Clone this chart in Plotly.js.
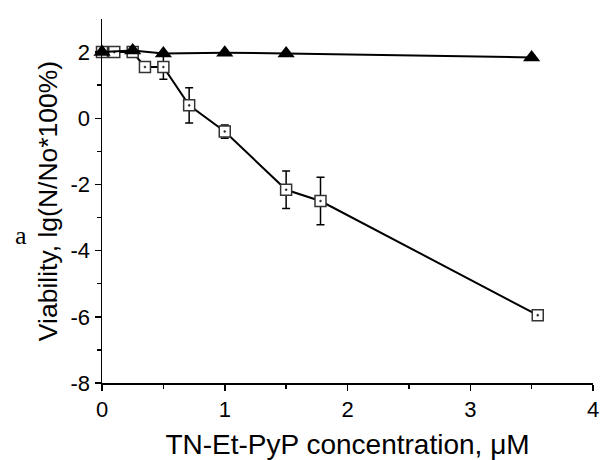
<!DOCTYPE html>
<html>
<head>
<meta charset="utf-8">
<script src="https://cdn.plot.ly/plotly-3.0.1.min.js"></script>
<style>html,body{margin:0;padding:0;background:#fff;}#chart{width:600px;height:460px;}</style>
</head>
<body>
<div id="chart"></div>
<script>
// Series 1: open squares (TN-Et-PyP treated)
var sqX = [0, 0.1, 0.25, 0.35, 0.5, 0.71, 1.0, 1.5, 1.78, 3.55];
var sqY = [2.0, 2.0, 2.0, 1.55, 1.55, 0.39, -0.40, -2.16, -2.50, -5.95];
var sqErr = [0, 0, 0, 0, 0.37, 0.53, 0.20, 0.57, 0.72, 0];

// Series 2: filled triangles (control)
var triX = [0, 0.25, 0.5, 1.0, 1.5, 3.5];
var triY = [2.0, 2.05, 1.96, 1.98, 1.96, 1.84];
var triErr = [0.05, 0.08, 0.05, 0.05, 0.05, 0.06];

var xTickVals = [0, 1, 2, 3, 4];
var yTickVals = [-8, -6, -4, -2, 0, 2];

var traces = [
  {
    x: sqX, y: sqY, type: 'scatter', mode: 'lines+markers',
    line: {color: '#000', width: 2},
    marker: {symbol: 'square-dot', size: 11, color: '#fff', line: {color: '#333', width: 1.5}},
    error_y: {type: 'data', array: sqErr, visible: true, color: '#000', thickness: 1.5, width: 4},
    showlegend: false, cliponaxis: false
  },
  {
    x: triX, y: triY, type: 'scatter', mode: 'lines+markers',
    line: {color: '#000', width: 2},
    marker: {symbol: 'triangle-up', size: 15, color: '#000'},
    error_y: {type: 'data', array: triErr, visible: true, color: '#000', thickness: 1.5, width: 3},
    showlegend: false, cliponaxis: false
  }
];

var layout = {
  width: 600, height: 460,
  margin: {l: 102, r: 7, t: 19, b: 77},
  paper_bgcolor: '#fff', plot_bgcolor: '#fff',
  font: {family: 'Liberation Sans, Arial, sans-serif', color: '#000', size: 22},
  xaxis: {
    range: [0, 4], tickvals: xTickVals, ticktext: xTickVals.map(String),
    showgrid: false, zeroline: false, showline: true, linecolor: '#000', linewidth: 2,
    ticks: 'outside', ticklen: 6, tickwidth: 1.5, tickcolor: '#000',
    minor: {dtick: 0.5, ticks: 'outside', ticklen: 4, tickwidth: 1.5, tickcolor: '#000', showgrid: false},
    tickfont: {size: 22},
    title: {text: 'TN-Et-PyP concentration, \u03bcM', font: {size: 28}, standoff: 14}
  },
  yaxis: {
    range: [-8, 3], tickvals: yTickVals, ticktext: yTickVals.map(String),
    showgrid: false, zeroline: false, showline: true, linecolor: '#000', linewidth: 1.5,
    ticks: 'outside', ticklen: 6, tickwidth: 1.5, tickcolor: '#000',
    minor: {tickvals: [-7, -5, -3, -1, 1], ticks: 'outside', ticklen: 4, tickwidth: 1.5, tickcolor: '#000', showgrid: false},
    tickfont: {size: 22},
    title: {text: 'Viability, lg(N/No*100%)', font: {size: 26.5}, standoff: 5}
  },
  annotations: [
    {text: 'a', xref: 'paper', yref: 'paper', x: -0.165, y: 0.405, xanchor: 'center', yanchor: 'middle',
     showarrow: false, font: {family: 'Liberation Serif, Times New Roman, serif', size: 26, color: '#000'}}
  ]
};

Plotly.newPlot('chart', traces, layout, {displayModeBar: false, staticPlot: true});
</script>
</body>
</html>
